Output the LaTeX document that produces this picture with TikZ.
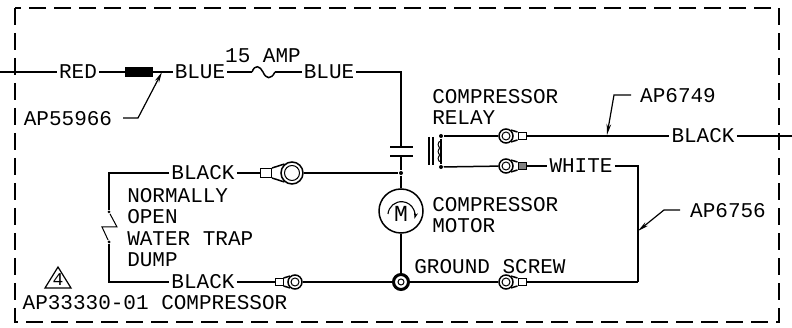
\documentclass[tikz,border=0pt]{standalone}
\usepackage{fontspec}
\setmainfont{Liberation Mono}
\usepackage{xcolor}
\usetikzlibrary{arrows.meta}
\newcommand{\cadsize}{\fontsize{21}{21}\selectfont}

\begin{document}
\begin{tikzpicture}[x=1pt, y=-1pt, line width=1.5pt]
\tikzstyle{label}=[inner sep=1.5pt, font=\cadsize]
\tikzstyle{block}=[inner sep=1.5pt, font=\cadsize, align=left, anchor=north west]
\tikzstyle{ring}=[draw, circle, inner sep=0pt]
\tikzstyle{barrel}=[draw, rectangle, inner sep=0pt, minimum width=11pt, minimum height=9pt]
\tikzstyle{dotted node}=[circle, fill=black, inner sep=0pt, minimum size=4pt]
\tikzstyle{leader}=[line width=1.2pt, -{Stealth[length=11pt, width=4.5pt]}]
\useasboundingbox (0,0) rectangle (792,328);

% frame
\coordinate (f1) at (15,8);
\coordinate (f2) at (779,322);
\draw[line width=1.4pt, dash pattern=on 17pt off 8pt] (f1) rectangle (f2);

% main line
\coordinate (in) at (0,72);
\coordinate (out) at (792,136);
\node[label] (red) at (78,72) {RED};
\node[draw, fill=black, inner sep=0pt, minimum width=27pt, minimum height=9pt] (fuse) at (139,72) {};
\node[label] (blueA) at (200,72) {BLUE};
\node[label] (amp) at (263,56) {15 AMP};
\node[label] (blueB) at (329,72) {BLUE};
\coordinate (w1) at (252,72);
\coordinate (w2) at (275,72);
\coordinate (corner) at (401,72);
\coordinate (capA) at (401,147);
\coordinate (capB) at (401,156);
\coordinate (capA1) at (390,147);
\coordinate (capA2) at (413,147);
\coordinate (capB1) at (390,156);
\coordinate (capB2) at (413,156);
\node[dotted node] (jct) at (401,173) {};
\node[draw, circle, minimum size=44pt, inner sep=0pt] (motor) at (401,211) {};
\node[inner sep=0pt, font=\fontsize{23}{23}\selectfont] (m) at (401,214) {M};
\node[draw, circle, line width=3pt, minimum size=15pt, inner sep=0pt] (gnd) at (401,282) {};
\node[draw, circle, line width=1pt, minimum size=6pt, inner sep=0pt] (gndin) at (401,282) {};

\draw (in) -- (red);
\draw (red) -- (fuse);
\draw (fuse) -- (blueA);
\draw (blueA) -- (w1);
\draw (w1) .. controls (255,64) and (260,66) .. (263,72) .. controls (266,79) and (271,80) .. (w2);
\draw (w2) -- (blueB);
\draw (blueB) -- (corner) -- (capA);
\draw (capA1) -- (capA2);
\draw (capB1) -- (capB2);
\draw (capB) -- (jct);
\draw (jct) -- (motor);
\draw (motor) -- (gnd);
\coordinate (arcstart) at (388,214);
\draw[line width=1.1pt, -{Stealth[length=6pt, width=4pt]}] (arcstart) arc[start angle=-175, end angle=15, radius=13.5];

% motor and relay text
\node[block] (relay) at (430,87) {COMPRESSOR\\RELAY};
\node[block] (mtr) at (430,195) {COMPRESSOR\\MOTOR};

% relay
\node[dotted node] (r1) at (441,136) {};
\node[dotted node] (r2) at (441,167) {};
\coordinate (coreA1) at (429,137);
\coordinate (coreA2) at (429,165);
\coordinate (coreB1) at (433,137);
\coordinate (coreB2) at (433,165);
\coordinate (c1) at (441,141);
\coordinate (c2) at (441,148);
\coordinate (c3) at (441,155);
\coordinate (c4) at (441,162);
\draw (r1) -- (r2);
\draw (coreA1) -- (coreA2);
\draw (coreB1) -- (coreB2);
\draw[line width=1pt] (c1) to[bend right=90, looseness=1.4] (c2);
\draw[line width=1pt] (c2) to[bend right=90, looseness=1.4] (c3);
\draw[line width=1pt] (c3) to[bend right=90, looseness=1.4] (c4);

% upper lug and black wire
\node[ring, minimum size=14pt] (lugA) at (506,136) {};
\node[ring, line width=1pt, minimum size=8pt] (lugAi) at (506,136) {};
\node[barrel, minimum width=8pt, minimum height=7pt, line width=1pt] (barA) at (522,136) {};
\node[label] (blackA) at (703,136) {BLACK};
\draw (r1) -- (lugA);
\draw (barA) -- (blackA);
\draw (blackA) -- (out);
\draw (lugA.50) -- (barA.north west);
\draw (lugA.-50) -- (barA.south west);

% lower lug and white wire
\node[ring, minimum size=14pt] (lugB) at (506,166) {};
\node[ring, line width=1pt, minimum size=8pt] (lugBi) at (506,166) {};
\node[barrel, fill=gray, minimum width=8pt, minimum height=7pt, line width=1pt] (barB) at (522,166) {};
\node[label] (white) at (581,166) {WHITE};
\coordinate (wr) at (638,166);
\coordinate (gr) at (638,282);
\draw (r2) -- (lugB);
\draw (barB) -- (white);
\draw (white) -- (wr) -- (gr);
\draw (lugB.50) -- (barB.north west);
\draw (lugB.-50) -- (barB.south west);

% ground
\node[ring, minimum size=14pt] (lugC) at (506,282) {};
\node[ring, line width=1pt, minimum size=8pt] (lugCi) at (506,282) {};
\node[barrel, minimum width=8pt, minimum height=7pt, line width=1pt] (barC) at (522,282) {};
\node[label] (screw) at (490,267) {GROUND SCREW};
\draw (gnd) -- (lugC);
\draw (barC) -- (gr);
\draw (lugC.50) -- (barC.north west);
\draw (lugC.-50) -- (barC.south west);

% water trap dump
\node[label] (blackB) at (203,173) {BLACK};
\node[label] (blackC) at (203,282) {BLACK};
\node[block] (trap) at (125,186) {NORMALLY\\[0.5pt]OPEN\\[0.5pt]WATER TRAP\\[0.5pt]DUMP};
\node[ring, minimum size=22pt] (lugD) at (292,173) {};
\node[ring, line width=1pt, minimum size=15pt] (lugDi) at (292,173) {};
\node[barrel, line width=1pt] (barD) at (266,173) {};
\node[ring, minimum size=14pt] (lugE) at (295,282) {};
\node[ring, line width=1pt, minimum size=8pt] (lugEi) at (295,282) {};
\node[barrel, minimum width=8pt, minimum height=7pt, line width=1pt] (barE) at (279,282) {};
\node[dotted node, minimum size=3pt] (s1) at (109,212) {};
\node[dotted node, minimum size=3pt] (s2) at (109,242) {};
\coordinate (tl) at (109,173);
\coordinate (bl) at (109,282);
\coordinate (z1) at (117,227);
\coordinate (z2) at (102,227);
\draw (blackB) -- (tl) -- (s1);
\draw[line width=1pt] (s1) -- (z1) -- (z2) -- (s2);
\draw (s2) -- (bl) -- (blackC);
\draw (blackB) -- (barD);
\draw (blackC) -- (barE);
\draw (lugD) -- (jct);
\draw (lugE) -- (gnd);
\draw (lugD.130) -- (barD.north east);
\draw (lugD.-130) -- (barD.south east);
\draw (lugE.130) -- (barE.north east);
\draw (lugE.-130) -- (barE.south east);

% part numbers
\node[label] (p1) at (68,119) {AP55966};
\coordinate (s3) at (123,118);
\coordinate (k1) at (138,118);
\coordinate (h1) at (162,72);
\draw[leader] (s3) -- (k1) -- (h1);
\node[label] (p2) at (678,96) {AP6749};
\coordinate (s4) at (631,95);
\coordinate (k2) at (614,95);
\coordinate (h2) at (607,135);
\draw[leader] (s4) -- (k2) -- (h2);
\node[label] (p3) at (728,211) {AP6756};
\coordinate (s5) at (680,210);
\coordinate (k3) at (664,210);
\coordinate (h3) at (638,231);
\draw[leader] (s5) -- (k3) -- (h3);

% revision mark
\coordinate (t1) at (58,267);
\coordinate (t2) at (45,288);
\coordinate (t3) at (71,288);
\draw[line width=1.2pt] (t1) -- (t2) -- (t3) -- cycle;
\node[inner sep=0pt, font=\fontsize{18}{18}\selectfont] (rev) at (58,280) {4};
\node[label] (part) at (155,303) {AP33330-01 COMPRESSOR};

\end{tikzpicture}
\end{document}
